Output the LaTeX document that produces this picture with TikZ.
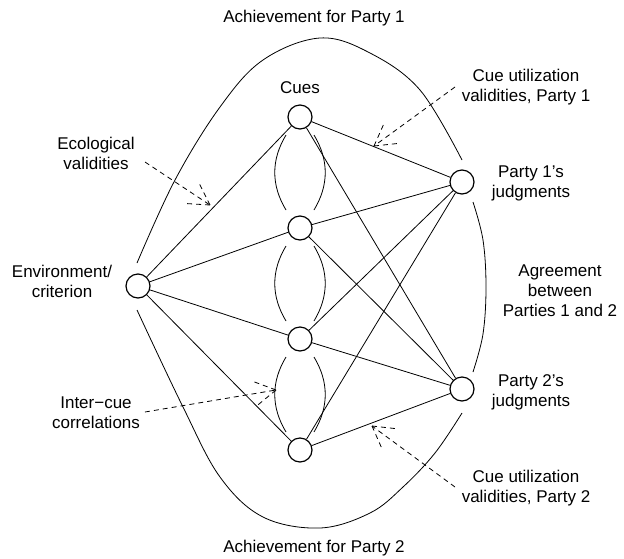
\documentclass[tikz,border=0pt]{standalone}
\usepackage{fontspec}
\setmainfont{Liberation Sans}
\usetikzlibrary{calc}
\begin{document}
\begin{tikzpicture}[x=1pt,y=-1pt,
  unit/.style={circle,draw,line width=1.2pt,minimum size=24pt,inner sep=0pt},
  link/.style={line width=0.8pt},
  lbl/.style={align=center,font=\fontsize{17}{20}\selectfont,inner sep=0pt},
  pointer/.style={line width=0.8pt,dash pattern=on 5pt off 4pt}]
\useasboundingbox (0,0) rectangle (624,558);
% units
\node[unit] (env) at (138,286) {};
\node[unit] (c1) at (300,117) {};
\node[unit] (c2) at (300,228) {};
\node[unit] (c3) at (300,339) {};
\node[unit] (c4) at (300,450) {};
\node[unit] (p1) at (462,182) {};
\node[unit] (p2) at (462,389) {};
% labels
\node[lbl] (tTop) at (314,18) {Achievement for Party 1};
\node[lbl] (tBot) at (314,548) {Achievement for Party 2};
\node[lbl] (tCues) at (300,88) {Cues};
\node[lbl] (tEco) at (96,153) {Ecological\\validities};
\node[lbl] (tEnv) at (62,281) {Environment/\\criterion};
\node[lbl] (tInter) at (96,413) {Inter−cue\\correlations};
\node[lbl] (tP1) at (531,183) {Party 1’s\\judgments};
\node[lbl] (tP2) at (531,392) {Party 2’s\\judgments};
\node[lbl] (tAgr) at (560,291) {Agreement\\between\\Parties 1 and 2};
\node[lbl] (tU1) at (526,87) {Cue utilization\\validities, Party 1};
\node[lbl] (tU2) at (526,488) {Cue utilization\\validities, Party 2};
% links
\foreach \c in {c1,c2,c3,c4}{
  \draw[link] (env) -- (\c);
  \draw[link] (\c) -- (p1);
  \draw[link] (\c) -- (p2);
}
% inter-cue lenses
\foreach \a/\b in {c1/c2,c2/c3,c3/c4}{
  \draw[link] ($(\a)+(-14,18)$) .. controls +(-15,25) and +(-15,-25) .. ($(\b)+(-14,-18)$);
  \draw[link] ($(\a)+(14,18)$) .. controls +(15,25) and +(15,-25) .. ($(\b)+(14,-18)$);
}
% achievement / agreement arcs
\draw[link] plot[smooth,tension=0.6] coordinates {(137,263) (175,180) (220,107) (263,60) (320,38) (370,53) (420,90) (462,160)};
\draw[link] plot[smooth,tension=0.6] coordinates {(137,310) (183,407) (220,477) (263,517) (320,528) (370,513) (403,487) (435,453) (462,413)};
\draw[link] plot[smooth,tension=0.6] coordinates {(473,202) (483,240) (486,287) (483,334) (473,372)};
% dashed pointers
\coordinate (ecoS) at (145,162); \coordinate (ecoT) at (210,205);
\coordinate (intS) at (145,412); \coordinate (intT) at (276,390);
\coordinate (u1S) at (455,87); \coordinate (u1T) at (374,146);
\coordinate (u2S) at (455,487); \coordinate (u2T) at (372,426);
\foreach \s/\t in {ecoS/ecoT,intS/intT,u1S/u1T,u2S/u2T}{
  \draw[pointer] (\s) -- (\t);
  \draw[pointer] (\t) -- ($(\t)!25pt!30:(\s)$);
  \draw[pointer] (\t) -- ($(\t)!25pt!-30:(\s)$);
}
\end{tikzpicture}
\end{document}
